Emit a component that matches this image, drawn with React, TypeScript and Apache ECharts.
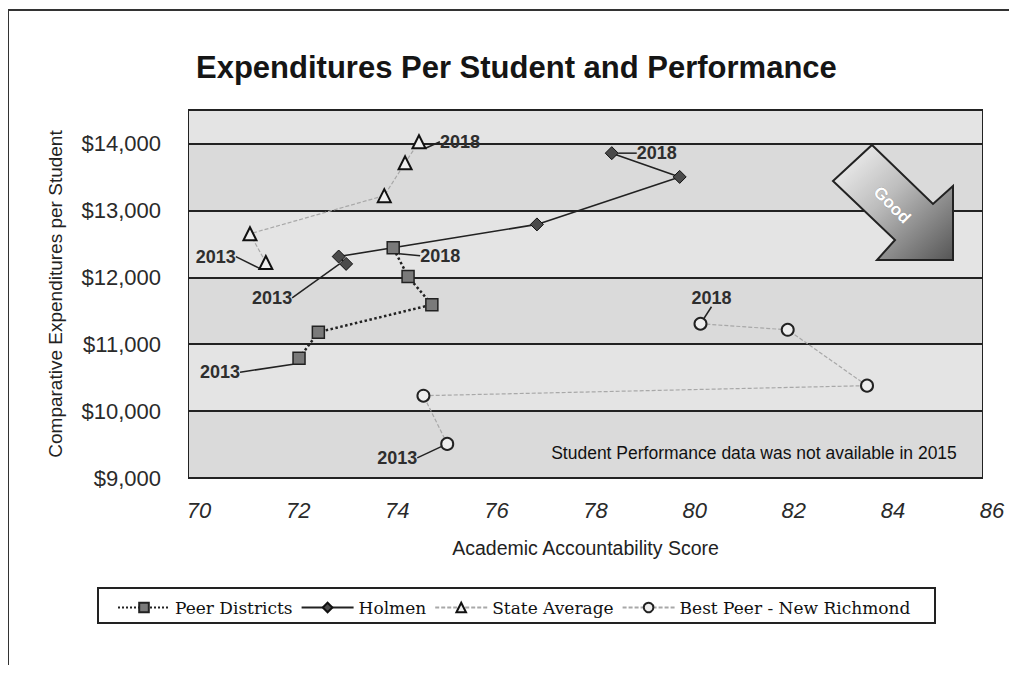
import React, { useEffect, useRef } from "react";
import * as echarts from "echarts";

const years = [2013, 2014, 2016, 2017, 2018];

const peerScore = [72.22, 72.61, 74.9, 74.42, 74.12];
const peerExp = [10790, 11180, 11590, 12010, 12440];

const holmenScore = [73.17, 73.02, 77.02, 79.9, 78.53];
const holmenExp = [12200, 12310, 12790, 13500, 13855];

const stateScore = [71.55, 71.23, 73.94, 74.36, 74.64];
const stateExp = [12220, 12650, 13220, 13710, 14025];

const nrScore = [75.21, 74.73, 83.68, 82.08, 80.32];
const nrExp = [9510, 10230, 10380, 11215, 11305];

const seriesNames = ["Peer Districts", "Holmen", "State Average", "Best Peer - New Richmond"];

const xTicks = [70, 72, 74, 76, 78, 80, 82, 84, 86];
const yTicks = [9000, 10000, 11000, 12000, 13000, 14000];

// label offsets (px) from the point for first (2013) and last (2018) points
const labelOffsets: Record<number, Record<number, [number, number]>> = {
  0: { 0: [-79, 14], 4: [47, 8] },
  1: { 0: [-74, 34], 4: [45, 0] },
  2: { 0: [-50, -6], 4: [41, 0] },
  3: { 0: [-50, 14], 4: [11, -26] },
};

function buildData(xs: number[], ys: number[]) {
  return xs.map((x, i) => {
    const isEnd = i === 0 || i === xs.length - 1;
    return {
      value: [x, ys[i]],
      label: {
        show: isEnd,
        formatter: String(years[i]),
      },
    };
  });
}

export default function App() {
  const ref = useRef<HTMLDivElement>(null);
  useEffect(() => {
    if (!ref.current) return;
    const chart = echarts.init(ref.current, null, { renderer: "svg" });

    const labelStyle = {
      position: "right" as const,
      fontFamily: "Liberation Sans, Arial, sans-serif",
      fontSize: 18,
      fontWeight: "bold" as const,
      color: "#2e2e2e",
    };
    const labelLine = { show: true, lineStyle: { color: "#222", width: 1.5 } };
    const labelLayout = (params: any) => {
      const off = (labelOffsets[params.seriesIndex] || {})[params.dataIndex];
      if (!off) return {};
      const r = params.rect;
      return {
        x: r.x + r.width / 2 + off[0],
        y: r.y + r.height / 2 + off[1],
        align: "center",
        verticalAlign: "middle",
      };
    };

    const option: any = {
      animation: false,
      backgroundColor: "#ffffff",
      title: {
        text: "Expenditures Per Student and Performance",
        left: 183,
        top: 39,
        textStyle: {
          fontFamily: "Liberation Sans, Arial, sans-serif",
          fontSize: 31,
          fontWeight: "bold",
          color: "#151515",
        },
      },
      grid: {
        left: 181,
        right: 27,
        top: 102,
        bottom: 187,
        show: true,
        borderColor: "#222",
        borderWidth: 2,
      },
      xAxis: {
        type: "value",
        min: xTicks[0],
        max: xTicks[xTicks.length - 1],
        interval: 2,
        name: "Academic Accountability Score",
        nameLocation: "middle",
        nameGap: 60,
        nameTextStyle: {
          fontFamily: "Liberation Sans, Arial, sans-serif",
          fontSize: 19.5,
          color: "#222",
        },
        axisLine: { show: false },
        axisTick: { show: false },
        splitLine: { show: false },
        axisLabel: {
          margin: 21,
          padding: [0, 0, 0, 20],
          fontFamily: "Liberation Sans, Arial, sans-serif",
          fontStyle: "italic",
          fontSize: 22,
          color: "#2a2a2a",
        },
      },
      yAxis: {
        type: "value",
        min: yTicks[0],
        max: 14500,
        interval: 1000,
        name: "Comparative Expenditures per Student",
        nameLocation: "middle",
        nameGap: 124,
        nameTextStyle: {
          fontFamily: "Liberation Sans, Arial, sans-serif",
          fontSize: 19,
          color: "#222",
        },
        axisLine: { show: false },
        axisTick: { show: false },
        axisLabel: {
          margin: 28,
          showMaxLabel: false,
          fontFamily: "Liberation Sans, Arial, sans-serif",
          fontSize: 22,
          color: "#2a2a2a",
          formatter: (v: number) => "$" + v.toLocaleString("en-US"),
        },
        splitLine: { show: true, lineStyle: { color: "#222", width: 2 } },
        splitArea: { show: true, areaStyle: { color: ["#dadada", "#e4e4e4"] } },
      },
      legend: {
        left: 104,
        top: 586,
        itemWidth: 52,
        itemHeight: 12,
        itemGap: 8,
        data: seriesNames,
        textStyle: {
          fontFamily: "DejaVu Serif, Liberation Serif, serif",
          fontSize: 17,
          color: "#111",
        },
      },
      graphic: [
        {
          type: "rect",
          shape: { x: 0, y: 2, width: 1100, height: 800 },
          style: { fill: "none", stroke: "#333", lineWidth: 2 },
          silent: true,
          z: -1,
        },
        {
          type: "rect",
          shape: { x: 90, y: 580, width: 837, height: 35 },
          style: { fill: "none", stroke: "#222", lineWidth: 2 },
          silent: true,
        },
        {
          type: "polygon",
          shape: {
            points: [
              [864, 137],
              [925, 196],
              [945, 178],
              [945, 252],
              [869, 252],
              [887, 232],
              [825, 173],
            ],
          },
          style: {
            fill: new echarts.graphic.LinearGradient(0, 0, 1, 1, [
              { offset: 0, color: "#fafafa" },
              { offset: 0.45, color: "#bdbdbd" },
              { offset: 1, color: "#555555" },
            ]),
            stroke: "#222",
            lineWidth: 2,
          },
          z: 5,
        },
        {
          type: "text",
          x: 884,
          y: 197,
          rotation: -Math.PI / 4,
          style: {
            text: "Good",
            fill: "#ffffff",
            font: "bold 17px Liberation Sans, Arial, sans-serif",
            align: "center",
            verticalAlign: "middle",
            stroke: "#888",
            lineWidth: 0.5,
          },
          z: 6,
        },
        {
          type: "text",
          x: 746,
          y: 445,
          style: {
            text: "Student Performance data was not available in 2015",
            fill: "#111",
            font: "17.5px Liberation Sans, Arial, sans-serif",
            align: "center",
            verticalAlign: "middle",
          },
          z: 6,
        },
      ],
      series: [
        {
          name: seriesNames[0],
          type: "line",
          data: buildData(peerScore, peerExp),
          symbol: "rect",
          symbolSize: 12,
          itemStyle: { color: "#7a7a7a", borderColor: "#222", borderWidth: 1.5 },
          lineStyle: { color: "#222", width: 2.5, type: "dotted" },
          label: labelStyle,
          labelLine,
          labelLayout,
          z: 4,
        },
        {
          name: seriesNames[1],
          type: "line",
          data: buildData(holmenScore, holmenExp),
          symbol: "diamond",
          symbolSize: 13,
          itemStyle: { color: "#4a4a4a", borderColor: "#111", borderWidth: 1 },
          lineStyle: { color: "#222", width: 1.6, type: "solid" },
          label: labelStyle,
          labelLine,
          labelLayout,
          z: 4,
        },
        {
          name: seriesNames[2],
          type: "line",
          data: buildData(stateScore, stateExp),
          symbol: "triangle",
          symbolSize: 13,
          itemStyle: { color: "#eeeeee", borderColor: "#111", borderWidth: 2 },
          lineStyle: { color: "#a8a8a8", width: 1.2, type: [4, 2] },
          label: labelStyle,
          labelLine,
          labelLayout,
          z: 3,
        },
        {
          name: seriesNames[3],
          type: "line",
          data: buildData(nrScore, nrExp),
          symbol: "circle",
          symbolSize: 12,
          itemStyle: { color: "#eeeeee", borderColor: "#222", borderWidth: 2 },
          lineStyle: { color: "#a8a8a8", width: 1.2, type: [4, 2] },
          label: labelStyle,
          labelLine,
          labelLayout,
          z: 3,
        },
      ],
    };
    chart.setOption(option);
    return () => chart.dispose();
  }, []);
  return <div ref={ref} style={{ width: 1001, height: 657 }} />;
}
